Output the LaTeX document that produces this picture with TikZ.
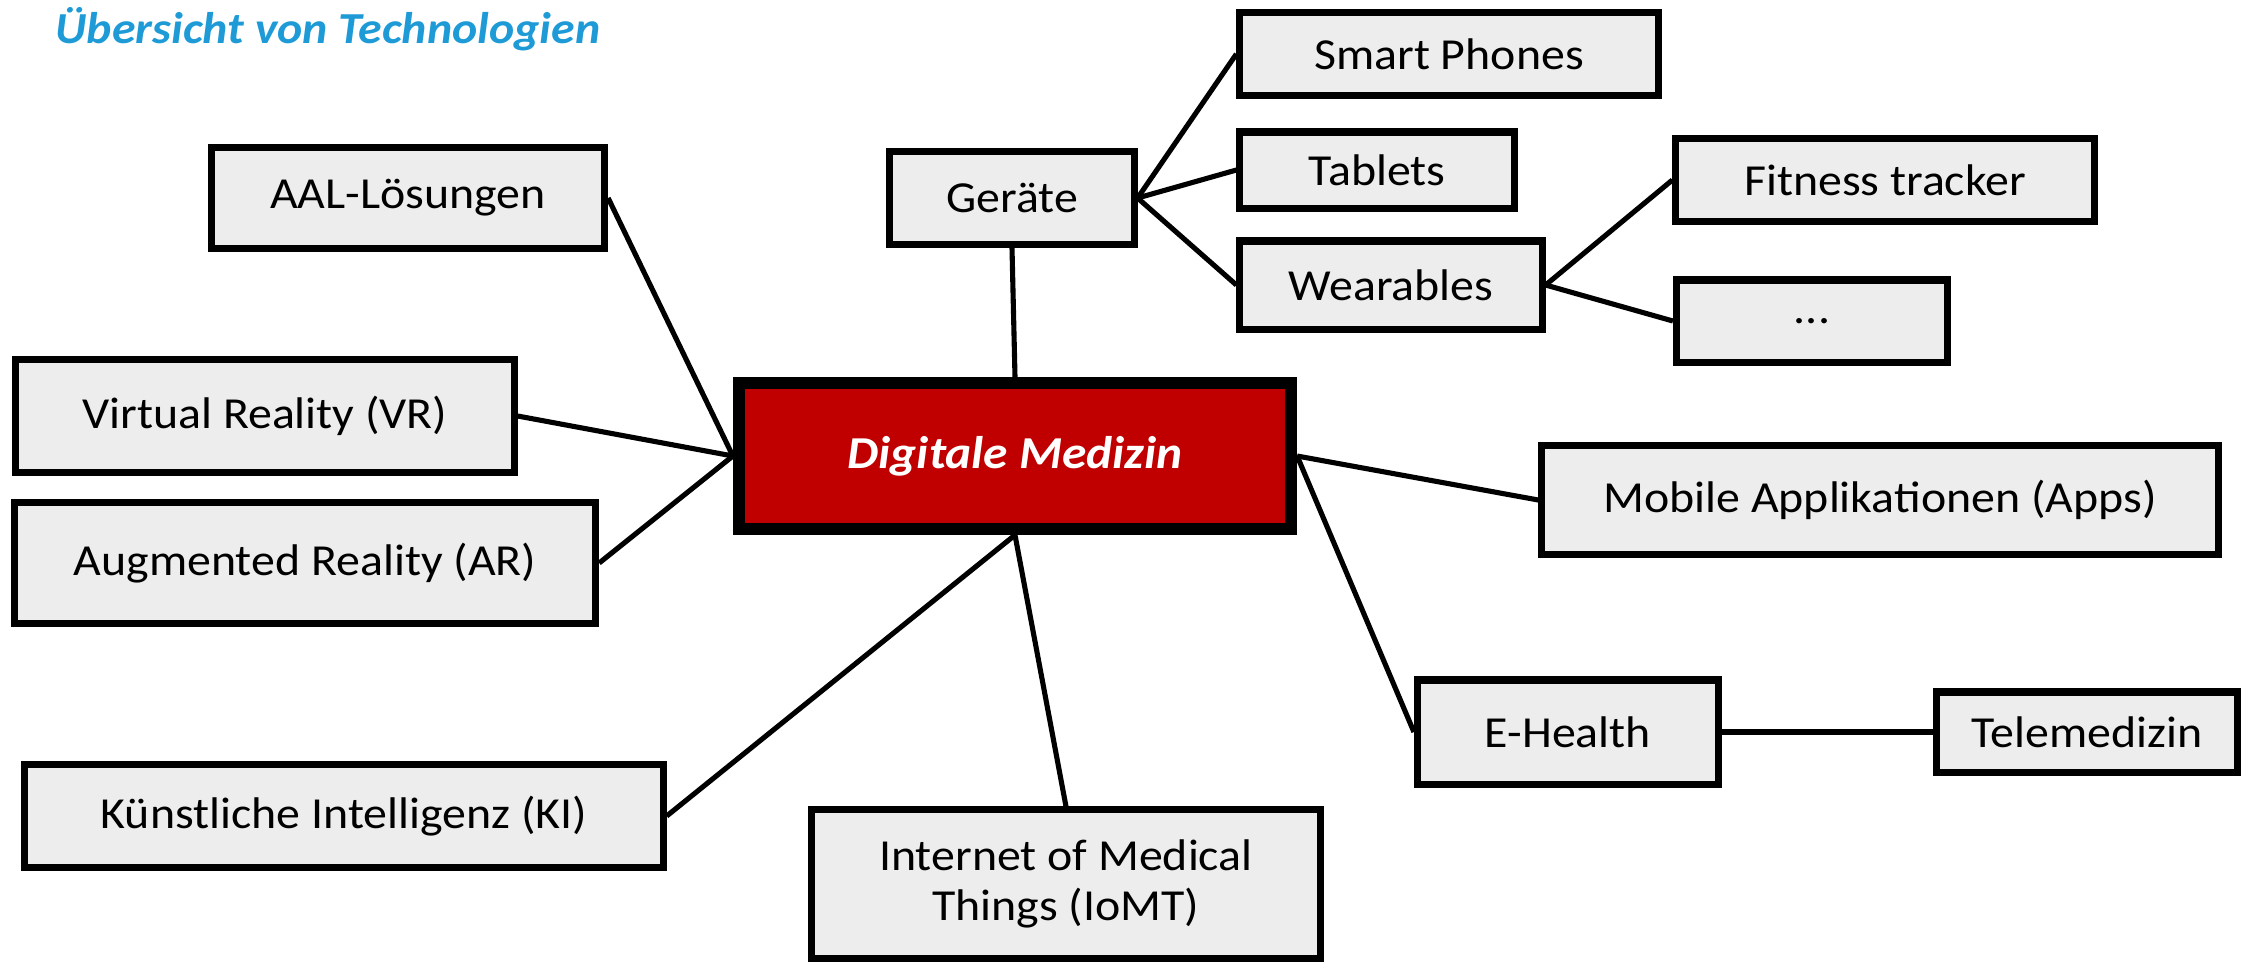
\documentclass[tikz,border=0pt]{standalone}
\usepackage{fontspec}
\setmainfont{Carlito}[FakeStretch=1.08]
\usetikzlibrary{backgrounds}
\definecolor{boxgray}{HTML}{EDEDED}
\definecolor{hubred}{HTML}{C00000}
\definecolor{titleblue}{HTML}{1E9BD7}
\begin{document}
\begin{tikzpicture}[x=0.01cm,y=-0.01cm,
  topic/.style={draw=black,line width=2pt,fill=boxgray,inner sep=0pt,
    font=\fontsize{12.6pt}{14.2pt}\selectfont,align=center},
  hub/.style={draw=black,line width=3.4pt,fill=hubred,text=white,inner sep=0pt,
    font=\fontsize{13pt}{15pt}\selectfont\bfseries\itshape},
  link/.style={line width=1.45pt,black}]
\useasboundingbox (0,0) rectangle (2254,963);

\node[anchor=base west,inner sep=0pt,text=titleblue,
  font=\fontsize{12.6pt}{15pt}\selectfont\bfseries\itshape] (title) at (55,43)
  {Übersicht von Technologien};

% central hub
\node[hub,minimum width=5.52cm,minimum height=1.46cm] (dm) at (1015,456) {Digitale Medizin};

% first ring
\node[topic,minimum width=3.93cm,minimum height=1.01cm] (aal) at (408,198) {AAL-Lösungen};
\node[topic,minimum width=2.44cm,minimum height=0.93cm] (ger) at (1012,198) {Geräte};
\node[topic,minimum width=4.98cm,minimum height=1.13cm] (vr) at (265,416) {Virtual Reality (VR)};
\node[topic,minimum width=5.81cm,minimum height=1.21cm] (ar) at (305,563) {Augmented Reality (AR)};
\node[topic,minimum width=6.38cm,minimum height=1.03cm] (ki) at (344,816) {Künstliche Intelligenz (KI)};
\node[topic,minimum width=5.09cm,minimum height=1.48cm] (iomt) at (1066,884) {Internet of Medical\\Things (IoMT)};
\node[topic,minimum width=6.76cm,minimum height=1.09cm] (apps) at (1880,500) {Mobile Applikationen (Apps)};
\node[topic,minimum width=3.01cm,minimum height=1.04cm] (eh) at (1568,732) {E-Health};

% devices
\node[topic,minimum width=4.18cm,minimum height=0.83cm] (phone) at (1449,54) {Smart Phones};
\node[topic,minimum width=2.74cm,minimum height=0.76cm] (tab) at (1377,170) {Tablets};
\node[topic,minimum width=3.02cm,minimum height=0.88cm] (wear) at (1391,285) {Wearables};
\node[topic,minimum width=4.18cm,minimum height=0.83cm] (fit) at (1885,180) {Fitness tracker};
\node[topic,minimum width=2.71cm,minimum height=0.82cm] (more) at (1812,321) {...};

% e-health branch
\node[topic,minimum width=3.00cm,minimum height=0.80cm] (tele) at (2087,732) {Telemedizin};

\begin{scope}[on background layer]
  \draw[link] (dm.west) -- (aal.east);
  \draw[link] (dm.west) -- (vr.east);
  \draw[link] (dm.west) -- (ar.east);
  \draw[link] (dm.south) -- (ki.east);
  \draw[link] (dm.south) -- (iomt.north);
  \draw[link] (dm.north) -- (ger.south);
  \draw[link] (dm.east) -- (apps.west);
  \draw[link] (dm.east) -- (eh.west);
  \draw[link] (ger.east) -- (phone.west);
  \draw[link] (ger.east) -- (tab.west);
  \draw[link] (ger.east) -- (wear.west);
  \draw[link] (wear.east) -- (fit.west);
  \draw[link] (wear.east) -- (more.west);
  \draw[link] (eh.east) -- (tele.west);
\end{scope}
\end{tikzpicture}
\end{document}
